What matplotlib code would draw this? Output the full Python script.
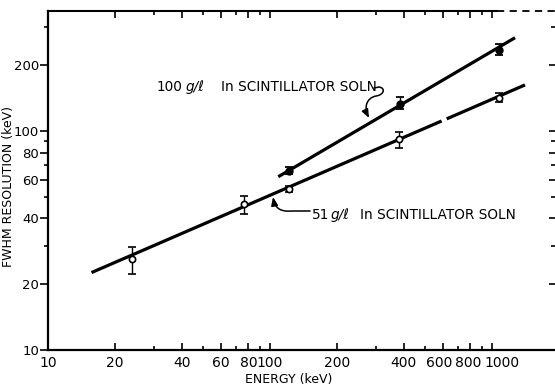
import matplotlib
matplotlib.use("Agg")
import matplotlib.pyplot as plt
from matplotlib.path import Path
from matplotlib.patches import FancyArrowPatch
from matplotlib.ticker import FixedLocator, NullFormatter
from matplotlib.transforms import ScaledTranslation

# 51 g/l in scintillator solution (open points)
low_e = [24, 76, 122, 380, 1070]
low_r = [26.0, 46.4, 54.7, 92.0, 142.0]
low_lo = [22.2, 41.8, 53.0, 84.0, 136.0]
low_hi = [29.6, 50.6, 56.5, 99.6, 150.0]

# 100 g/l in scintillator solution (filled points)
high_e = [122, 385, 1075]
high_r = [66.0, 134.0, 236.0]
high_lo = [63.5, 126.3, 223.0]
high_hi = [68.5, 143.7, 251.0]

# hand-drawn fit lines (end points), lower one has a break near 600 keV
high_fit_e = [109, 1270]
high_fit_r = [62, 268]
low_fit_e = [[15.7, 593], [625, 1408]]
low_fit_r = [[22.6, 111.5], [114.0, 163]]

x_ticks = [10, 20, 40, 60, 80, 100, 200, 400, 600, 800, 1000]
x_minor = [30, 50, 70, 90, 300, 500, 700, 900]
y_ticks = [10, 20, 40, 60, 80, 100, 200]
y_minor = [30, 50, 70, 90, 300]

W, H = 555, 387
fig = plt.figure(figsize=(W / 100, H / 100), dpi=100)
ax = fig.add_axes([48 / W, 1 - 350 / H, 1 - 48 / W, 339 / H])
ax.set_xscale("log")
ax.set_yscale("log")
ax.set_xlim(10, 1922)
ax.set_ylim(10, 355)

k = "black"
lw = 2.3
ax.plot(high_fit_e, high_fit_r, color=k, lw=lw, solid_capstyle="butt")
for xe, yr in zip(low_fit_e, low_fit_r):
    ax.plot(xe, yr, color=k, lw=lw, solid_capstyle="butt")

err_low = [[r - lo for r, lo in zip(low_r, low_lo)], [hi - r for r, hi in zip(low_r, low_hi)]]
err_high = [[r - lo for r, lo in zip(high_r, high_lo)], [hi - r for r, hi in zip(high_r, high_hi)]]
ax.errorbar(low_e, low_r, yerr=err_low, fmt="o", ms=4.5, mfc="white", mec=k, mew=1.2,
            ecolor=k, elinewidth=1.0, capsize=3, capthick=1.0, zorder=5)
ax.errorbar(high_e, high_r, yerr=err_high, fmt="o", ms=5, mfc=k, mec=k,
            ecolor=k, elinewidth=1.0, capsize=3, capthick=1.3, zorder=5)

ax.xaxis.set_major_locator(FixedLocator(x_ticks))
ax.xaxis.set_minor_locator(FixedLocator(x_minor))
ax.yaxis.set_major_locator(FixedLocator(y_ticks))
ax.yaxis.set_minor_locator(FixedLocator(y_minor))
ax.set_xticklabels([str(t) for t in x_ticks])
ax.set_yticklabels([str(t) for t in y_ticks])
ax.xaxis.set_minor_formatter(NullFormatter())
ax.yaxis.set_minor_formatter(NullFormatter())

ax.tick_params(axis="x", which="both", direction="in", top=True, labelsize=10, pad=4)
ax.tick_params(axis="x", which="major", length=5, width=1.2)
ax.tick_params(axis="x", which="minor", length=3, width=1.2)
ax.tick_params(axis="y", which="both", direction="out", labelsize=9.5, pad=1)
ax.tick_params(axis="y", which="major", length=5.5, width=1.2)
ax.tick_params(axis="y", which="minor", length=3, width=1.2)

# right-hand ticks point inward, the frame itself is cut off at the edge
axr = ax.twinx()
axr.set_yscale("log")
axr.set_ylim(ax.get_ylim())
axr.yaxis.set_major_locator(FixedLocator(y_ticks))
axr.yaxis.set_minor_locator(FixedLocator(y_minor))
axr.yaxis.set_major_formatter(NullFormatter())
axr.yaxis.set_minor_formatter(NullFormatter())
axr.tick_params(axis="y", which="both", direction="in", width=1.2)
axr.tick_params(axis="y", which="major", length=4)
axr.tick_params(axis="y", which="minor", length=3)
for s in axr.spines.values():
    s.set_visible(False)

# hand-lettered labels sit a bit off their ticks at the crowded end
shift = {600: -4, 800: -2, 1000: 10}
for t, lab in zip(x_ticks, ax.get_xticklabels()):
    if t in shift:
        lab.set_transform(lab.get_transform() + ScaledTranslation(shift[t] / 100, 0, fig.dpi_scale_trans))

for s in ["left", "bottom"]:
    ax.spines[s].set_linewidth(1.6)
ax.spines["right"].set_visible(False)
ax.spines["top"].set_visible(False)
ax.plot([0, 0.8856], [1, 1], transform=ax.transAxes, color=k, lw=1.5, clip_on=False)
ax.plot([0.8856, 1], [1, 1], transform=ax.transAxes, color=k, lw=1.3, ls=(0, (4, 3)), clip_on=False)

ax.set_xlabel("ENERGY (keV)", fontsize=9)
ax.set_ylabel("FWHM RESOLUTION (keV)", fontsize=9)
ax.xaxis.set_label_coords(0.475, -0.068)
ax.yaxis.set_label_coords(-0.066, 0.481)


def px(x, y):
    return (x / W, 1 - y / H)


fs = 9.8
tf = fig.transFigure
for x, y, s, st in [(157, 87, "100", "normal"), (186, 87, "g/ℓ", "italic"),
                    (221, 87, "In SCINTILLATOR SOLN", "normal"),
                    (312, 215, "51", "normal"), (331, 215, "g/ℓ", "italic"),
                    (360, 215, "In SCINTILLATOR SOLN", "normal")]:
    fig.text(*px(x, y), s, fontsize=fs, style=st, va="center", ha="left", transform=tf)

up = Path([px(374, 88), px(379, 87), px(386, 88), px(384, 95), px(376, 96),
           px(366, 98), px(364, 108), px(369, 118)],
          [Path.MOVETO, Path.LINETO, Path.CURVE4, Path.CURVE4, Path.CURVE4,
           Path.CURVE4, Path.CURVE4, Path.CURVE4])
dn = Path([px(310, 211), px(292, 211), px(280, 212), px(275, 208), px(273, 197)],
          [Path.MOVETO, Path.LINETO, Path.CURVE4, Path.CURVE4, Path.CURVE4])
for p in (up, dn):
    fig.add_artist(FancyArrowPatch(path=p, transform=tf, arrowstyle="-|>,head_length=5,head_width=2",
                                   color=k, lw=1.1))

fig.savefig("out.png", dpi=100)
